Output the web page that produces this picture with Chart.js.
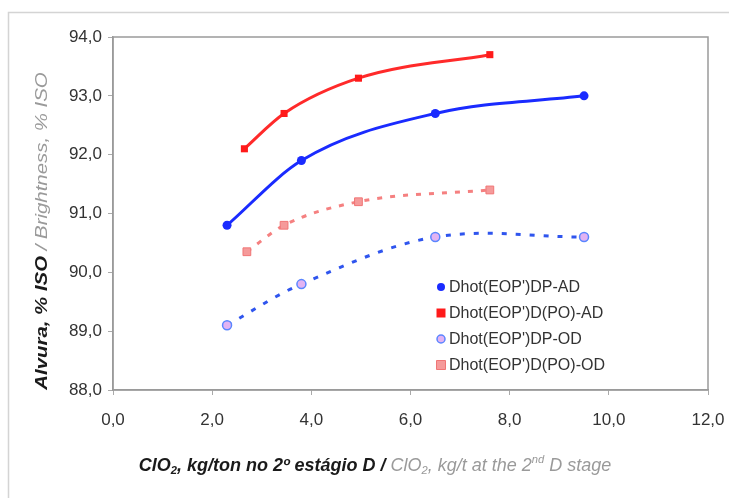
<!DOCTYPE html>
<html><head><meta charset="utf-8">
<script src="https://cdn.jsdelivr.net/npm/chart.js@4/dist/chart.umd.min.js"></script>
<style>html,body{margin:0;padding:0;background:#fff}</style>
</head><body>
<canvas id="c" width="729" height="498"></canvas>
<script>
// ---- data ----
const seriesLabels = ["Dhot(EOP')DP-AD", "Dhot(EOP')D(PO)-AD", "Dhot(EOP')DP-OD", "Dhot(EOP')D(PO)-OD"];
const dpAdX   = [2.3, 3.8, 6.5, 9.5];
const dpAdY   = [90.8, 91.9, 92.7, 93.0];
const dpoAdX  = [2.65, 3.45, 4.95, 7.6];
const dpoAdY  = [92.1, 92.7, 93.3, 93.7];
const dpOdX   = [2.3, 3.8, 6.5, 9.5];
const dpOdY   = [89.1, 89.8, 90.6, 90.6];
const dpoOdX  = [2.7, 3.45, 4.95, 7.6];
const dpoOdY  = [90.35, 90.8, 91.2, 91.4];
const xTickValues = [0, 2, 4, 6, 8, 10, 12];
const yTickValues = [88, 89, 90, 91, 92, 93, 94];

const pts = (xs, ys) => xs.map((x, i) => ({x: x, y: ys[i]}));
const FONT = "'Liberation Sans', Arial, sans-serif";
const fmt = v => Number(v).toFixed(1).replace('.', ',');

const datasets = [
  {label: seriesLabels[0], data: pts(dpAdX, dpAdY), borderColor: '#1a2bff', backgroundColor: '#1a2bff',
   borderWidth: 3, pointStyle: 'circle', pointRadius: 4.5, pointBorderWidth: 0, cubicInterpolationMode: 'monotone'},
  {label: seriesLabels[1], data: pts(dpoAdX, dpoAdY), borderColor: '#ff2a2a', backgroundColor: '#ff1a1a',
   borderWidth: 3, pointStyle: 'rect', pointRadius: 5, pointBorderWidth: 0, cubicInterpolationMode: 'monotone'},
  {label: seriesLabels[2], data: pts(dpOdX, dpOdY), borderColor: '#2f55ee', backgroundColor: '#e2b3f2',
   pointBorderColor: '#5a86ff', borderWidth: 3, borderDash: [5, 9], pointStyle: 'circle', pointRadius: 4.5,
   pointBorderWidth: 1.5, tension: 0.35},
  {label: seriesLabels[3], data: pts(dpoOdX, dpoOdY), borderColor: '#f58080', backgroundColor: '#f59a9a',
   pointBorderColor: '#f07575', borderWidth: 3, borderDash: [5, 8], pointStyle: 'rect', pointRadius: 5.5,
   pointBorderWidth: 1, cubicInterpolationMode: 'monotone'}
];

function drawSegments(ctx, segs, size) {
  let total = 0;
  const parts = segs.map(s => {
    const sz = s.shift ? size * 0.62 : size;
    const f = `italic ${s.bold ? 'bold ' : ''}${sz}px ${FONT}`;
    ctx.font = f;
    const w = ctx.measureText(s.t).width;
    total += w;
    return {s, f, w};
  });
  let x = -total / 2;
  parts.forEach(p => {
    ctx.font = p.f;
    ctx.fillStyle = p.s.c;
    let dy = 0;
    if (p.s.shift === 'sub') dy = size * 0.25;
    if (p.s.shift === 'sup') dy = -size * 0.35;
    ctx.fillText(p.s.t, x, dy);
    x += p.w;
  });
}

const decor = {
  id: 'decor',
  beforeDraw(chart) {
    const ctx = chart.ctx;
    ctx.save();
    ctx.fillStyle = '#fff';
    ctx.fillRect(0, 0, chart.width, chart.height);
    ctx.strokeStyle = '#d4d4d4';
    ctx.lineWidth = 1.5;
    ctx.strokeRect(8.5, 12.5, 900, 700);
    ctx.restore();
  },
  afterDraw(chart) {
    const ctx = chart.ctx;
    const a = chart.chartArea;
    ctx.save();
    ctx.strokeStyle = '#9a9a9a';
    ctx.lineWidth = 1.5;
    ctx.strokeRect(a.left, a.top, a.right - a.left, a.bottom - a.top);

    ctx.textBaseline = 'middle';
    ctx.save();
    ctx.translate(375, 466);
    drawSegments(ctx, [
      {t: 'ClO', bold: true, c: '#1a1a1a'}, {t: '2', bold: true, c: '#1a1a1a', shift: 'sub'},
      {t: ', kg/ton no 2º estágio D /', bold: true, c: '#1a1a1a'},
      {t: ' ClO', c: '#9a9a9a'}, {t: '2', c: '#9a9a9a', shift: 'sub'},
      {t: ', kg/t at the 2', c: '#9a9a9a'}, {t: 'nd', c: '#9a9a9a', shift: 'sup'},
      {t: ' D stage', c: '#9a9a9a'}
    ], 18);
    ctx.restore();

    ctx.save();
    ctx.translate(42, 231);
    ctx.rotate(-Math.PI / 2);
    ctx.scale(1.2, 1);
    drawSegments(ctx, [
      {t: 'Alvura, % ISO', bold: true, c: '#1a1a1a'},
      {t: ' / Brightness, % ISO', c: '#9a9a9a'}
    ], 17);
    ctx.restore();

    const rows = [287, 313, 339, 365];
    ctx.font = `16px ${FONT}`;
    ctx.textAlign = 'left';
    chart.data.datasets.forEach((ds, i) => {
      const y = rows[i], mx = 441;
      ctx.fillStyle = ds.backgroundColor;
      ctx.strokeStyle = ds.pointBorderColor || ds.backgroundColor;
      ctx.lineWidth = ds.pointBorderWidth || 0;
      ctx.beginPath();
      if (ds.pointStyle === 'circle') ctx.arc(mx, y, 4, 0, Math.PI * 2);
      else ctx.rect(mx - 4.5, y - 4.5, 9, 9);
      ctx.fill();
      if (ds.pointBorderWidth) ctx.stroke();
      ctx.fillStyle = '#333';
      ctx.fillText(ds.label, 449, y + 1);
    });
    ctx.restore();
  }
};

new Chart(document.getElementById('c'), {
  type: 'line',
  data: {datasets},
  options: {
    responsive: false,
    animation: false,
    devicePixelRatio: 1,
    layout: {padding: {top: 37, right: 21, left: 0, bottom: 0}},
    plugins: {legend: {display: false}, tooltip: {enabled: false}},
    scales: {
      x: {
        type: 'linear', min: 0, max: 12,
        afterFit: s => { s.height = 108; s.paddingLeft = 0; s.paddingRight = 0; },
        afterBuildTicks: s => { s.ticks = xTickValues.map(v => ({value: v})); },
        ticks: {callback: fmt, color: '#333', font: {family: FONT, size: 17}, padding: 15, maxRotation: 0},
        grid: {drawOnChartArea: false, tickLength: 5, color: '#aaa'},
        border: {color: '#9a9a9a', width: 1.5}
      },
      y: {
        type: 'linear', min: 88, max: 94,
        afterFit: s => { s.width = 113; s.paddingTop = 0; s.paddingBottom = 0; },
        afterBuildTicks: s => { s.ticks = yTickValues.map(v => ({value: v})); },
        ticks: {callback: fmt, color: '#333', font: {family: FONT, size: 17}, padding: 6},
        grid: {drawOnChartArea: false, tickLength: 5, color: '#aaa'},
        border: {color: '#9a9a9a', width: 1.5}
      }
    }
  },
  plugins: [decor]
});
</script>
</body></html>
